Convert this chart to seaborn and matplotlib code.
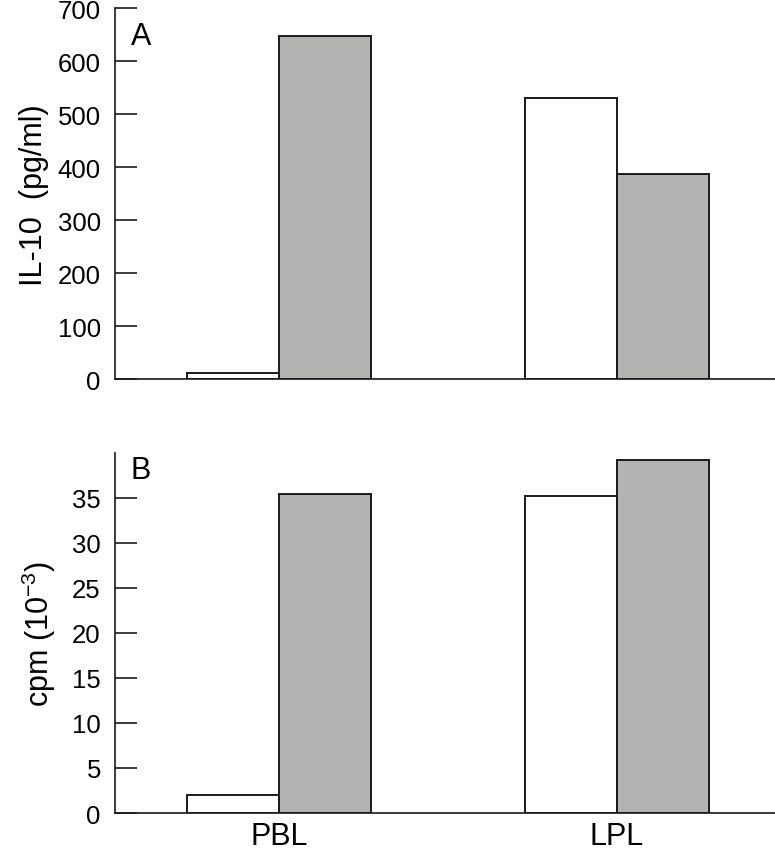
import matplotlib
matplotlib.use("Agg")
import matplotlib.pyplot as plt
import seaborn as sns
import pandas as pd

cells = ["PBL", "LPL"]
conditions = ["control", "stimulated"]
il10 = [[11, 648], [531, 387]]        # pg/ml
cpm = [[2.0, 35.4], [35.2, 39.2]]     # cpm x 10^-3

sns.set_theme(style="white")
plt.rcParams["font.family"] = ["Liberation Sans", "DejaVu Sans"]
plt.rcParams["mathtext.fontset"] = "custom"
plt.rcParams["mathtext.rm"] = "Liberation Sans"
plt.rcParams["mathtext.it"] = "Liberation Sans"
plt.rcParams["text.color"] = "black"
plt.rcParams["axes.labelcolor"] = "black"
plt.rcParams["xtick.color"] = "black"
plt.rcParams["ytick.color"] = "black"

rows = []
for i, cell in enumerate(cells):
    for j, cond in enumerate(conditions):
        rows.append({"cell": cell, "cond": cond, "il10": il10[i][j], "cpm": cpm[i][j]})
df = pd.DataFrame(rows)

palette = {"control": "white", "stimulated": "#b3b4b2"}

fig = plt.figure(figsize=(7.75, 8.53), dpi=100)
ax1 = fig.add_axes([0.148, 0.5545, 0.852, 0.4345])
ax2 = fig.add_axes([0.148, 0.0457, 0.852, 0.4223])

for ax, col in [(ax1, "il10"), (ax2, "cpm")]:
    sns.barplot(data=df, x="cell", y=col, hue="cond", palette=palette,
                width=0.544, gap=0, edgecolor="#1a1a1a", linewidth=1.4,
                legend=False, ax=ax)
    ax.set_xlim(-0.485, 1.467)
    sns.despine(ax=ax, right=True, top=True)
    for s in ["left", "bottom"]:
        ax.spines[s].set_color("#1a1a1a")
        ax.spines[s].set_linewidth(1.2)
    ax.tick_params(axis="y", direction="in", length=16, width=1.2,
                   color="#1a1a1a", labelsize=18.5, pad=10, left=True)
    ax.tick_params(axis="x", length=0, labelsize=22, pad=6)
    ax.set_xlabel("")

ax1.set_ylim(0, 700)
ax1.set_yticks(range(0, 701, 100))
ax1.set_xticklabels([])
ax1.set_ylabel("IL-10  (pg/ml)", fontsize=22, labelpad=6)
ax1.text(0.024, 0.965, "A", transform=ax1.transAxes, fontsize=22, va="top")

ax2.set_ylim(0, 40)
ax2.set_yticks(range(0, 36, 5))
ax2.set_ylabel("cpm (10$^{-3}$)", fontsize=22, labelpad=10)
ax2.text(0.024, 0.995, "B", transform=ax2.transAxes, fontsize=22, va="top")

fig.savefig("out.png", dpi=100)
